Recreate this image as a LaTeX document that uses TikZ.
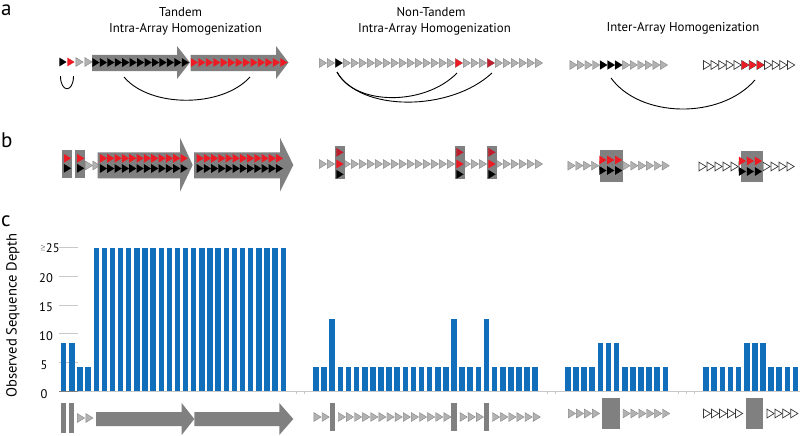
\documentclass[tikz,border=0pt]{standalone}
\usepackage{fontspec}
\setmainfont{PT Sans}
\definecolor{triGray}{RGB}{178,178,178}
\definecolor{triEdge}{RGB}{135,135,135}
\definecolor{boxGray}{RGB}{128,128,128}
\definecolor{triRed}{RGB}{237,28,36}
\definecolor{triDRed}{RGB}{190,30,45}
\definecolor{hollowEdge}{RGB}{55,55,55}
\definecolor{barBlue}{RGB}{16,110,186}
\definecolor{gridGray}{RGB}{200,200,200}
\begin{document}
\begin{tikzpicture}[x=1pt,y=-1pt,
  tri/.pic={\path[pic actions] (-3.6,-4.4) -- (3.6,0) -- (-3.6,4.4) -- cycle;},
  grayT/.style={fill=triGray,draw=triEdge,line width=0.4pt},
  blackT/.style={fill=black},
  redT/.style={fill=triRed},
  dredT/.style={fill=triDRed},
  hollowT/.style={fill=white,draw=hollowEdge,line width=0.7pt},
  blockbox/.style={fill=boxGray},
  bar/.style={fill=barBlue},
  link/.style={draw=black,line width=0.9pt},
  title/.style={font=\fontsize{12.8}{14}\selectfont,inner sep=0pt},
  panel/.style={font=\fontsize{21}{21}\selectfont,inner sep=0pt,anchor=west},
  ticklab/.style={font=\fontsize{12.5}{13}\selectfont,inner sep=0pt},
  grid/.style={draw=gridGray,line width=0.6pt},
  axis/.style={draw=gridGray,line width=0.6pt},
]
\useasboundingbox (0,0) rectangle (800,436);

% ---------- panel letters and titles ----------
\node[panel] (pa) at (1,10) {a};
\node[panel] (pb) at (1,140) {b};
\node[panel] (pc) at (1,221) {c};
\node[title] (t1a) at (180.5,12.5) {Tandem};
\node[title] (t1b) at (185.5,29) {Intra-Array Homogenization};
\node[title] (t2a) at (431,12) {Non-Tandem};
\node[title] (t2b) at (434.5,29) {Intra-Array Homogenization};
\node[title] (t3) at (683,28) {Inter-Array Homogenization};

% ================= ROW a =================
% tandem
\pic[blackT] at (63,62) {tri};
\pic[redT] at (71,62) {tri};
\pic[grayT] at (79.5,62) {tri};
\pic[grayT] at (88.5,62) {tri};
\fill[blockbox] (92,55) -- (177,55) -- (177,46) -- (190,62.5) -- (177,79) -- (177,71) -- (92,71) -- cycle;
\fill[blockbox] (190.5,55) -- (276,55) -- (276,46) -- (288.5,62.5) -- (276,79) -- (276,71) -- (190.5,71) -- cycle;
\foreach \k in {0,...,12}{\pic[blackT] at (96+7.45*\k,62.5) {tri};}
\foreach \k in {0,...,12}{\pic[redT] at (194.5+7.45*\k,62.5) {tri};}
\coordinate (u1) at (60.5,76);
\coordinate (u2) at (73.5,76);
\draw[link] (u1) .. controls +(0,17) and +(0,17) .. (u2);
\coordinate (ta1) at (124,77);
\coordinate (ta2) at (250,77);
\draw[link] (ta1) .. controls +(26,31) and +(-28,31) .. (ta2);

% non-tandem
\foreach \i in {0,...,27}{\pic[grayT] at (323+8*\i,63) {tri};}
\pic[blackT] at (339,63) {tri};
\pic[redT] at (459,63) {tri};
\pic[dredT] at (491,63) {tri};
\coordinate (na0) at (337,72);
\coordinate (na1) at (457,73);
\coordinate (na2) at (492,73);
\draw[link] (na0) .. controls +(18,34) and +(-32,33) .. (na1);
\draw[link] (na0) .. controls +(23,40) and +(-42,39) .. (na2);

% inter-array
\foreach \k in {0,...,12}{\pic[grayT] at (573.5+7.54*\k,65) {tri};}
\foreach \k in {4,5,6}{\pic[blackT] at (573.5+7.54*\k,65) {tri};}
\foreach \k in {0,...,11}{\pic[hollowT] at (707+7.64*\k,65) {tri};}
\foreach \k in {5,6,7}{\pic[redT] at (707+7.64*\k,65) {tri};}
\coordinate (ia1) at (611,78);
\coordinate (ia2) at (755,80);
\draw[link] (ia1) .. controls +(29,40) and +(-35,40) .. (ia2);

% ================= ROW b =================
% tandem
\fill[blockbox] (61.7,150) rectangle (71.7,177.7);
\fill[blockbox] (75,150) rectangle (85,177.7);
\pic[redT] at (67.5,158.3) {tri};
\pic[blackT] at (67.5,168.3) {tri};
\pic[redT] at (80.7,158.3) {tri};
\pic[blackT] at (80.7,168.3) {tri};
\pic[grayT] at (89,165.5) {tri};
\pic[grayT] at (96.5,165.5) {tri};
\fill[blockbox] (97.7,152.3) -- (180,152.3) -- (180,137.7) -- (192.7,165) -- (180,191.7) -- (180,178.3) -- (97.7,178.3) -- cycle;
\fill[blockbox] (194,152.3) -- (280,152.3) -- (280,137.7) -- (293.3,165) -- (280,191.7) -- (280,178.3) -- (194,178.3) -- cycle;
\foreach \k in {0,...,11}{
  \pic[redT] at (103.5+7.33*\k,158.3) {tri};
  \pic[blackT] at (103.5+7.33*\k,168.5) {tri};
  \pic[redT] at (200.3+7.2*\k,158.3) {tri};
  \pic[blackT] at (200.3+7.2*\k,168.5) {tri};
}
% non-tandem
\foreach \i in {0,...,27}{\pic[grayT] at (323+8*\i,164) {tri};}
\foreach \x in {339,459,491}{
  \fill[blockbox] (\x-4.5,146) rectangle (\x+5.5,179.3);
  \pic[dredT] at (\x+1,152.3) {tri};
  \pic[redT] at (\x+1,164) {tri};
  \pic[blackT] at (\x+1,174.3) {tri};
}
% inter-array
\foreach \k in {0,...,12}{\pic[grayT] at (571.5+7.85*\k,165.7) {tri};}
\fill[blockbox] (600,150) rectangle (623.3,181.7);
\foreach \k in {4,5,6}{
  \pic[redT] at (571.5+7.85*\k,160) {tri};
  \pic[blackT] at (571.5+7.85*\k,170.5) {tri};
}
\foreach \k in {0,...,11}{\pic[hollowT] at (702.5+8*\k,166.5) {tri};}
\fill[blockbox] (740.7,151) rectangle (762.7,182.3);
\foreach \k in {5,6,7}{
  \pic[redT] at (702.5+8*\k,161) {tri};
  \pic[blackT] at (702.5+8*\k,171.5) {tri};
}

% ================= ROW c : chart =================
\foreach \v in {5,10,15,20,25}{\draw[grid] (59,391-5.74*\v) -- (78,391-5.74*\v);}
\draw[axis] (59,391) -- (800,391);
\draw[draw=boxGray,line width=0.6pt] (59,391) -- (78,391);
\foreach \x in {296,304,547,555,678,686,694}{\draw[axis] (\x,391) -- (\x,394);}
\node[ticklab,anchor=west] (l25) at (40,248.5) {\raisebox{3.5pt}{\fontsize{6}{6}\selectfont$\geq$}25};
\node[ticklab] (l20) at (46,278) {20};
\node[ticklab] (l15) at (46,307) {15};
\node[ticklab] (l10) at (46,336.5) {10};
\node[ticklab] (l5) at (44,365.5) {5};
\node[ticklab] (l0) at (44,394) {0};
\node[rotate=90,font=\fontsize{14.6}{16}\selectfont,inner sep=0pt] (ylab) at (13,315.5) {Observed Sequence Depth};

% bars left
\foreach \i in {0,...,27}{
  \pgfmathsetmacro\v{\i<2 ? 8.3 : (\i<4 ? 4.2 : 25)}
  \fill[bar] (61+8.13*\i,391) rectangle (66.4+8.13*\i,391-5.74*\v);
}
% bars middle
\foreach \i in {0,...,27}{
  \pgfmathsetmacro\v{(\i==2 || \i==17 || \i==21) ? 12.5 : 4.2}
  \fill[bar] (313.2+8.12*\i,391) rectangle (318.8+8.12*\i,391-5.74*\v);
}
% bars right 1
\foreach \k in {0,...,12}{
  \pgfmathsetmacro\v{(\k>3 && \k<7) ? 8.3 : 4.2}
  \fill[bar] (565+8.13*\k,391) rectangle (570.6+8.13*\k,391-5.74*\v);
}
% bars right 2
\foreach \k in {0,...,11}{
  \pgfmathsetmacro\v{(\k>4 && \k<8) ? 8.3 : 4.2}
  \fill[bar] (703.3+8.13*\k,391) rectangle (708.9+8.13*\k,391-5.74*\v);
}

% ---------- row c: array sketches ----------
\fill[blockbox] (60.7,403) rectangle (65.7,433);
\fill[blockbox] (69,403) rectangle (74,433);
\pic[grayT] at (81,418) {tri};
\pic[grayT] at (89.5,418) {tri};
\fill[blockbox] (96,412) -- (181.7,412) -- (181.7,403) -- (194.3,419) -- (181.7,435) -- (181.7,426) -- (96,426) -- cycle;
\fill[blockbox] (194.3,412) -- (279.3,412) -- (279.3,403) -- (293.3,419) -- (279.3,435) -- (279.3,426) -- (194.3,426) -- cycle;

\foreach \i in {0,1,3,4,5,6,7,8,9,10,11,12,13,14,15,16,18,19,20,22,23,24,25,26,27}{
  \pic[grayT] at (317.5+8.12*\i,417) {tri};
}
\foreach \i in {2,17,21}{\fill[blockbox] (313.3+8.12*\i,403) rectangle (318.7+8.12*\i,431);}

\foreach \x in {572,580,588,596,626.6,634.5,642.4,650.3,658.2,666.1}{\pic[grayT] at (\x,413.5) {tri};}
\fill[blockbox] (601.7,398.3) rectangle (620,429.3);
\foreach \x in {707,715,723,731,739,770.6,778.5,786.4,794.3}{\pic[hollowT] at (\x,413.5) {tri};}
\fill[blockbox] (745.7,398.3) rectangle (763,429.3);
\end{tikzpicture}
\end{document}
